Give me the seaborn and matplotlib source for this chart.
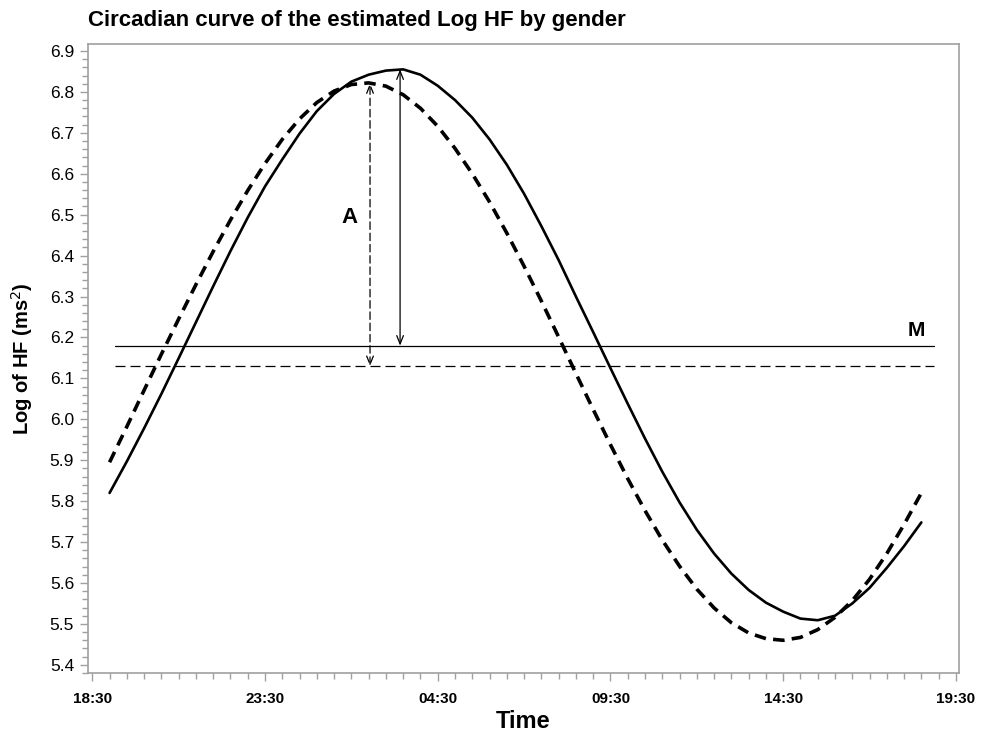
import matplotlib
matplotlib.use("Agg")
import matplotlib.pyplot as plt
import matplotlib.ticker as mticker
import seaborn as sns
import numpy as np
import pandas as pd

# %%
# values (hours since midnight of day 1; 24+ = next day)
solid_hours = [19, 19.5, 20, 20.5, 21, 21.5, 22, 22.5, 23, 23.5, 24, 24.5, 25, 25.5,
               26, 26.5, 27, 27.5, 28, 28.5, 29, 29.5, 30, 30.5, 31, 31.5, 32, 32.5,
               33, 33.5, 34, 34.5, 35, 35.5, 36, 36.5, 37, 37.5, 38, 38.5, 39, 39.5,
               40, 40.5, 41, 41.5, 42, 42.5]
solid_loghf = [5.82, 5.897, 5.978, 6.062, 6.149, 6.237, 6.325, 6.411, 6.493, 6.569,
               6.635, 6.698, 6.753, 6.795, 6.825, 6.842, 6.852, 6.855, 6.842, 6.815,
               6.78, 6.737, 6.684, 6.622, 6.551, 6.472, 6.389, 6.300, 6.213, 6.125,
               6.038, 5.953, 5.872, 5.797, 5.73, 5.672, 5.623, 5.583, 5.552, 5.53,
               5.513, 5.509, 5.52, 5.55, 5.588, 5.637, 5.69, 5.748]

dashed_hours = solid_hours
dashed_loghf = [5.895, 5.982, 6.071, 6.159, 6.245, 6.329, 6.41, 6.487, 6.559, 6.625,
                6.684, 6.734, 6.774, 6.802, 6.818, 6.822, 6.814, 6.793, 6.76, 6.716,
                6.662, 6.6, 6.531, 6.455, 6.374, 6.289, 6.201, 6.112, 6.024, 5.938,
                5.855, 5.777, 5.705, 5.641, 5.585, 5.539, 5.503, 5.478, 5.464, 5.46,
                5.467, 5.486, 5.516, 5.557, 5.609, 5.672, 5.743, 5.82]

# mesor lines and amplitude arrows
mesor_span = [19.15, 42.87]
solid_mesor = 6.18
dashed_mesor = 6.13
solid_peak_time, solid_peak = 27.41, 6.855
dashed_peak_time, dashed_peak = 26.54, 6.821

tick_hours = [18.5, 23.5, 28.5, 33.5, 38.5, 43.5]
tick_labels = ["18:30", "23:30", "04:30", "09:30", "14:30", "19:30"]

# %%
sns.set_theme(style="ticks")
plt.rcParams["font.family"] = ["Liberation Sans", "DejaVu Sans"]
plt.rcParams["text.color"] = "black"
plt.rcParams["axes.labelcolor"] = "black"

fig = plt.figure(figsize=(9.84, 7.37), dpi=100)
ax = fig.add_axes([0.0894, 0.0868, 0.8852, 0.8535])

df_solid = pd.DataFrame({"hour": solid_hours, "loghf": solid_loghf})
df_dashed = pd.DataFrame({"hour": dashed_hours, "loghf": dashed_loghf})

sns.lineplot(data=df_solid, x="hour", y="loghf", ax=ax, color="black",
             lw=1.9, solid_joinstyle="round")
sns.lineplot(data=df_dashed, x="hour", y="loghf", ax=ax, color="black",
             lw=2.6, dashes=(3.2, 2.0))

# mesor lines
sns.lineplot(x=mesor_span, y=[solid_mesor, solid_mesor], ax=ax, color="black", lw=0.9)
sns.lineplot(x=mesor_span, y=[dashed_mesor, dashed_mesor], ax=ax, color="black",
             lw=0.9, dashes=(8, 4))

# amplitude arrows
ax.annotate("", xy=(solid_peak_time, solid_peak), xytext=(solid_peak_time, solid_mesor),
            arrowprops=dict(arrowstyle="<->,head_length=0.5,head_width=0.2",
                            color="black", lw=0.9, shrinkA=0, shrinkB=0))
ax.annotate("", xy=(dashed_peak_time, dashed_peak), xytext=(dashed_peak_time, dashed_mesor),
            arrowprops=dict(arrowstyle="<->,head_length=0.5,head_width=0.2",
                            color="black", lw=0.9, linestyle=(0, (6, 3)),
                            shrinkA=0, shrinkB=0))

ax.text(25.96, 6.492, "A", fontsize=16, fontweight="bold", ha="center", va="center")
ax.text(42.34, 6.216, "M", fontsize=15, fontweight="bold", ha="center", va="center")

# axes
ax.set_xlim(18.375, 43.59)
ax.set_ylim(5.38, 6.917)
ax.set_xticks(tick_hours)
ax.set_xticklabels(tick_labels, fontweight="bold")
ax.xaxis.set_minor_locator(mticker.MultipleLocator(0.5))
ax.set_yticks(np.round(np.arange(5.4, 6.95, 0.1), 1))
ax.yaxis.set_major_formatter(mticker.FormatStrFormatter("%.1f"))
ax.yaxis.set_minor_locator(mticker.MultipleLocator(0.02))
ax.tick_params(axis="both", which="major", length=6, width=1, color="#a0a0a0",
               labelcolor="black", pad=4)
ax.tick_params(axis="both", which="minor", length=4, width=1, color="#a0a0a0")
ax.tick_params(axis="y", labelsize=12.5)
ax.tick_params(axis="x", labelsize=11, pad=8)
for s in ax.spines.values():
    s.set_color("#a0a0a0")
    s.set_linewidth(1.2)

ax.set_xlabel("Time", fontsize=17, fontweight="bold")
ax.xaxis.set_label_coords(0.5, -0.058)
ax.set_ylabel("Log of HF (ms$^2$)", fontsize=14.5, fontweight="bold")
ax.yaxis.set_label_coords(-0.061, 0.5)
ax.set_title("Circadian curve of the estimated Log HF by gender", loc="left",
             fontsize=16, fontweight="bold", pad=13, color="black")

fig.savefig("out.png", dpi=100)
